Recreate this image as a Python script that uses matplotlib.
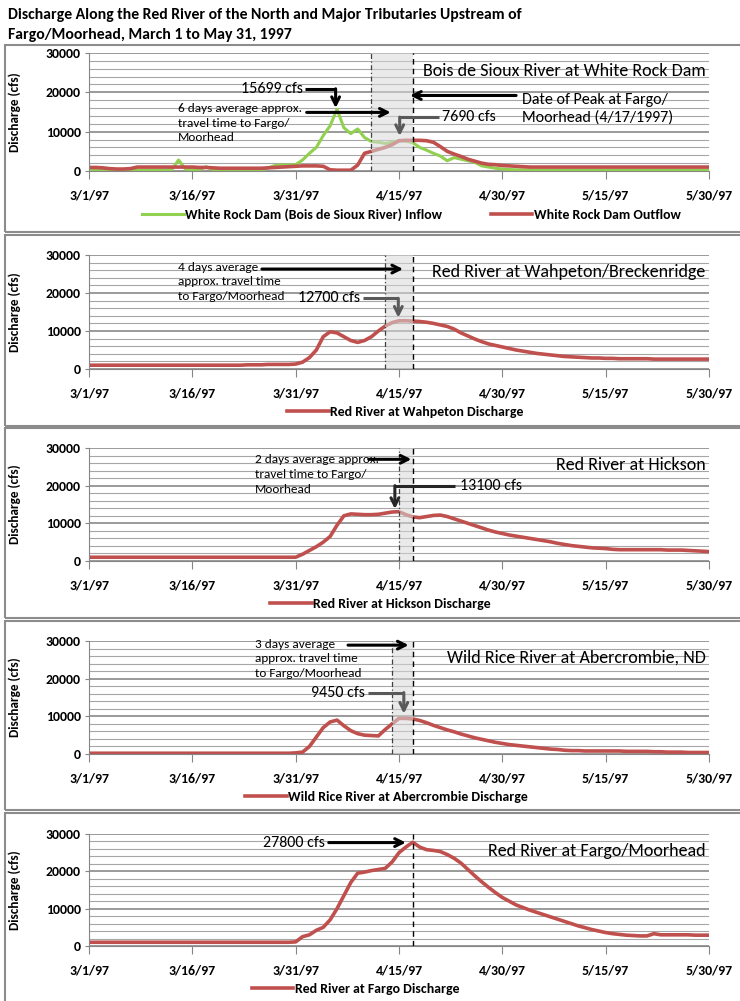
import numpy as np
import matplotlib.pyplot as plt
from matplotlib.patches import Rectangle

plt.rcParams['font.family'] = ['Carlito', 'Lato', 'DejaVu Sans']

# daily values, 3/1/97 (day 0) to 5/30/97 (day 90)
days = np.arange(91)
tick_pos = [0, 15, 30, 45, 60, 75, 90]
tick_labels = ['3/1/97', '3/16/97', '3/31/97', '4/15/97', '4/30/97', '5/15/97', '5/30/97']

white_rock_inflow = [
    200, 200, 200, 150, 150, 150, 200, 200, 200, 200,
    200, 200, 300, 2800, 500, 300, 300, 1100, 300, 200,
    200, 200, 200, 200, 200, 200, 800, 1400, 1500, 1500,
    1600, 2800, 4500, 6000, 9000, 11500, 15699, 11000, 9500, 10700,
    8500, 7500, 7300, 7000, 7300, 7690, 7600, 7200, 6000, 5300,
    4500, 3800, 2600, 3400, 3000, 2600, 2200, 1300, 1000, 700,
    500, 400, 300, 300, 250, 200, 200, 200, 200, 200,
    200, 200, 200, 200, 200, 200, 200, 200, 200, 200,
    200, 200, 200, 200, 200, 200, 200, 200, 200, 200, 200]
white_rock_outflow = [
    900, 900, 800, 600, 500, 500, 600, 1000, 1000, 1000,
    1000, 1000, 1000, 1000, 1000, 1000, 900, 900, 800, 700,
    700, 700, 700, 700, 700, 700, 800, 900, 1000, 1100,
    1200, 1300, 1300, 1300, 1200, 300, 200, 200, 200, 1500,
    4500, 5000, 5500, 6000, 6700, 7690, 7800, 7800, 7800, 7700,
    7300, 6200, 5000, 4300, 3700, 3000, 2500, 2000, 1700, 1600,
    1400, 1300, 1200, 1100, 1000, 1000, 1000, 1000, 1000, 1000,
    1000, 1000, 1000, 1000, 1000, 1000, 1000, 1000, 1000, 1000,
    1000, 1000, 1000, 1000, 1000, 1000, 1000, 1000, 1000, 1000, 1000]
wahpeton = [
    1000, 1000, 1000, 1000, 1000, 1000, 1000, 1000, 1000, 1000,
    1000, 1000, 1000, 1000, 1000, 1000, 1000, 1000, 1000, 1000,
    1000, 1000, 1000, 1100, 1100, 1100, 1200, 1200, 1200, 1200,
    1300, 1800, 3000, 5000, 8500, 9800, 9500, 8500, 7500, 7000,
    7500, 8500, 10000, 11300, 12200, 12700, 12700, 12600, 12500, 12300,
    12000, 11600, 11200, 10500, 9500, 8700, 7900, 7200, 6600, 6200,
    5800, 5400, 5000, 4700, 4400, 4100, 3900, 3700, 3500, 3300,
    3200, 3100, 3000, 2900, 2900, 2800, 2800, 2700, 2700, 2700,
    2700, 2700, 2600, 2600, 2600, 2600, 2600, 2600, 2600, 2600, 2600]
hickson = [
    1000, 1000, 1000, 1000, 1000, 1000, 1000, 1000, 1000, 1000,
    1000, 1000, 1000, 1000, 1000, 1000, 1000, 1000, 1000, 1000,
    1000, 1000, 1000, 1000, 1000, 1000, 1000, 1000, 1000, 1000,
    1000, 1800, 2800, 3800, 5000, 6500, 9500, 12000, 12500, 12400,
    12300, 12300, 12400, 12700, 13000, 13100, 12300, 11700, 11500, 11800,
    12100, 12200, 11800, 11200, 10600, 10000, 9400, 8800, 8200, 7700,
    7300, 6900, 6600, 6300, 6000, 5700, 5400, 5100, 4700, 4400,
    4100, 3900, 3700, 3500, 3400, 3300, 3100, 3000, 3000, 3000,
    3000, 3000, 3000, 3000, 2900, 2900, 2900, 2800, 2700, 2600, 2500]
abercrombie = [
    200, 200, 200, 200, 200, 200, 200, 200, 200, 200,
    200, 200, 200, 200, 200, 200, 200, 200, 200, 200,
    200, 200, 200, 200, 200, 200, 200, 200, 200, 200,
    300, 500, 2000, 4500, 7000, 8500, 9000, 7500, 6200, 5400,
    5000, 4900, 4800, 6500, 8000, 9450, 9450, 9300, 8900, 8300,
    7600, 7000, 6400, 5900, 5300, 4800, 4300, 3900, 3500, 3100,
    2800, 2500, 2300, 2100, 1900, 1700, 1500, 1300, 1200, 1000,
    900, 900, 800, 800, 800, 800, 800, 800, 700, 700,
    700, 700, 600, 600, 500, 500, 500, 400, 400, 400, 400]
fargo = [
    1000, 1000, 1000, 1000, 1000, 1000, 1000, 1000, 1000, 1000,
    1000, 1000, 1000, 1000, 1000, 1000, 1000, 1000, 1000, 1000,
    1000, 1000, 1000, 1000, 1000, 1000, 1000, 1000, 1000, 1000,
    1100, 2500, 3000, 4200, 5000, 7000, 10000, 13500, 17000, 19500,
    19800, 20200, 20500, 20800, 22500, 25000, 26500, 27800, 26500, 25800,
    25600, 25300, 24500, 23500, 22200, 20500, 18800, 17200, 15700, 14300,
    13000, 12000, 11000, 10300, 9600, 9000, 8400, 7800, 7200, 6600,
    6000, 5400, 4900, 4400, 4000, 3600, 3300, 3100, 2900, 2800,
    2700, 2700, 3300, 3000, 3000, 3000, 3000, 3000, 2900, 2900, 2900]

RED = '#C0504D'
GREEN = '#92D050'
W, H = 740, 1001

fig = plt.figure(figsize=(7.4, 10.01), dpi=100)

# panel frames
for top, bot in [(45, 232), (235, 426), (428, 618), (621, 810), (813, 1003)]:
    fig.patches.append(Rectangle((5 / W, 1 - bot / H), 740 / W, (bot - top) / H,
                                 transform=fig.transFigure, fill=False,
                                 edgecolor='#8c8c8c', lw=1.5))

fig.text(8 / W, 1 - 15 / H, 'Discharge Along the Red River of the North and Major Tributaries Upstream of',
         fontsize=11.3, fontweight='bold', va='center')
fig.text(8 / W, 1 - 35 / H, 'Fargo/Moorhead, March 1 to May 31, 1997',
         fontsize=11.3, fontweight='bold', va='center')


def make_axes(top, bot):
    ax = fig.add_axes([89 / W, 1 - bot / H, 620 / W, (bot - top) / H])
    ax.set_xlim(0, 90)
    ax.set_ylim(0, 30000)
    ax.set_yticks([0, 10000, 20000, 30000])
    ax.set_yticks(np.arange(0, 30001, 2000), minor=True)
    ax.set_xticks(tick_pos)
    ax.set_xticklabels(tick_labels)
    ax.tick_params(axis='both', labelsize=10, colors='#868686', labelcolor='black')
    ax.tick_params(axis='x', length=6, pad=7)
    ax.tick_params(axis='y', length=3, pad=3)
    ax.tick_params(axis='y', which='minor', length=0)
    for lab in ax.get_xticklabels() + ax.get_yticklabels():
        lab.set_fontweight('bold')
    ax.grid(axis='y', which='major', color='#7f7f7f', lw=1.1)
    ax.grid(axis='y', which='minor', color='#a6a6a6', lw=0.8)
    ax.set_axisbelow(True)
    for s in ['top', 'right']:
        ax.spines[s].set_visible(False)
    ax.spines['left'].set_color('#868686')
    ax.spines['bottom'].set_color('#868686')
    ax.set_ylabel('Discharge (cfs)', fontsize=9.5, fontweight='bold')
    ax.yaxis.set_label_coords(-0.11, 0.5)
    return ax


def travel_band(ax, x0, x1=47):
    if x0 is not None:
        ax.axvspan(x0, x1, color='#d9d9d9', alpha=0.55, lw=0, zorder=3)
        ax.axvline(x0, color='#404040', ls=(0, (4, 2, 1, 2)), lw=0.9, zorder=4)
    ax.axvline(x1, color='black', ls=(0, (4, 3)), lw=1.0, zorder=4)


def arrow(ax, x0, y0, x1, y1, color='black'):
    ax.annotate('', xy=(x1, y1), xytext=(x0, y0), annotation_clip=False,
                arrowprops=dict(arrowstyle='->', color=color, lw=2.2,
                                mutation_scale=14, shrinkA=0, shrinkB=0), zorder=6)


def elbow(ax, x0, x1, y, ytip, color):
    ax.plot([x0, x1], [y, y], color=color, lw=2.2, zorder=6, solid_capstyle='butt')
    arrow(ax, x1, y, x1, ytip, color)


def title(ax, s):
    ax.text(89.5, 25500, s, ha='right', va='center', fontsize=13, zorder=7)


def note(ax, x, y, s):
    ax.text(x, y, s, ha='left', va='top', fontsize=9.5, linespacing=1.4, zorder=7)


def cfs(ax, x, y, s, ha):
    ax.text(x, y, s, ha=ha, va='center', fontsize=11.5, zorder=7)


leg_kw = dict(frameon=False, handlelength=3.0, handletextpad=0.1,
              borderaxespad=0, prop={'weight': 'bold', 'size': 10})

# panel 1: White Rock Dam
ax = make_axes(53, 171)
ax.plot(days, white_rock_inflow, color=GREEN, lw=2.2, label='White Rock Dam (Bois de Sioux River) Inflow')
ax.plot(days, white_rock_outflow, color=RED, lw=2.6, label='White Rock Dam Outflow')
travel_band(ax, 41)
title(ax, 'Bois de Sioux River at White Rock Dam')
cfs(ax, 31.0, 20900, '15699 cfs', 'right')
elbow(ax, 31.3, 35.8, 20900, 16000, 'black')
note(ax, 12.9, 17300, '6 days average approx.\ntravel time to Fargo/\nMoorhead')
arrow(ax, 31.6, 14900, 43.8, 14900)
ax.text(62.8, 15800, 'Date of Peak at Fargo/\nMoorhead (4/17/1997)', ha='left', va='center',
        fontsize=11.5, linespacing=1.35, zorder=7)
arrow(ax, 62.0, 19200, 46.6, 19200)
cfs(ax, 51.3, 13700, '7690 cfs', 'left')
elbow(ax, 50.8, 45.1, 13700, 8900, '#595959')
ax.legend(loc='center', bbox_to_anchor=(0.52, -0.37), ncol=2, columnspacing=3.5, **leg_kw)

# panel 2: Wahpeton
ax = make_axes(255, 369)
ax.plot(days, wahpeton, color=RED, lw=2.6, label='Red River at Wahpeton Discharge')
travel_band(ax, 43)
title(ax, 'Red River at Wahpeton/Breckenridge')
note(ax, 12.9, 28200, '4 days average\napprox. travel time\nto Fargo/Moorhead')
arrow(ax, 25.1, 26300, 45.6, 26300)
cfs(ax, 39.4, 18600, '12700 cfs', 'right')
elbow(ax, 39.8, 44.9, 18600, 13500, '#595959')
ax.legend(loc='center', bbox_to_anchor=(0.51, -0.38), **leg_kw)

# panel 3: Hickson
ax = make_axes(448, 561)
ax.plot(days, hickson, color=RED, lw=2.6, label='Red River at Hickson Discharge')
travel_band(ax, 45)
title(ax, 'Red River at Hickson')
note(ax, 24.1, 28300, '2 days average approx.\ntravel time to Fargo/\nMoorhead')
arrow(ax, 40.6, 27000, 46.8, 27000)
cfs(ax, 53.8, 20000, '13100 cfs', 'left')
elbow(ax, 53.2, 44.4, 20000, 13800, '#262626')
ax.legend(loc='center', bbox_to_anchor=(0.47, -0.38), **leg_kw)

# panel 4: Abercrombie
ax = make_axes(641, 754)
ax.plot(days, abercrombie, color=RED, lw=2.6, label='Wild Rice River at Abercrombie Discharge')
travel_band(ax, 44)
title(ax, 'Wild Rice River at Abercrombie, ND')
note(ax, 24.1, 30600, '3 days average\napprox. travel time\nto Fargo/Moorhead')
arrow(ax, 37.6, 28900, 46.4, 28900)
cfs(ax, 40.0, 16300, '9450 cfs', 'right')
elbow(ax, 40.5, 45.7, 16300, 10700, '#595959')
ax.legend(loc='center', bbox_to_anchor=(0.48, -0.38), **leg_kw)

# panel 5: Fargo
ax = make_axes(834, 946)
ax.plot(days, fargo, color=RED, lw=2.6, label='Red River at Fargo Discharge')
travel_band(ax, None)
title(ax, 'Red River at Fargo/Moorhead')
cfs(ax, 34.3, 27700, '27800 cfs', 'right')
arrow(ax, 34.8, 27700, 46.0, 27700)
ax.legend(loc='center', bbox_to_anchor=(0.43, -0.38), **leg_kw)

fig.savefig('out.png', dpi=100)
